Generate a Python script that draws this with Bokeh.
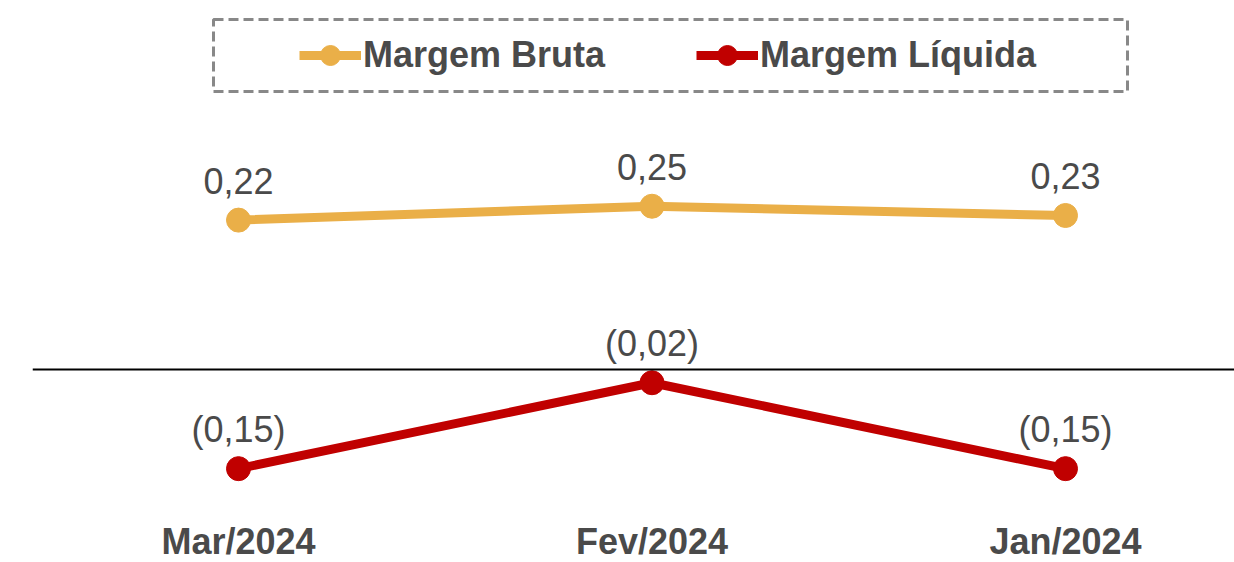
from bokeh.plotting import figure
from bokeh.models import ColumnDataSource, Span, BoxAnnotation, Legend, LegendItem
from bokeh.core.properties import value
from bokeh.embed import file_html
from bokeh.resources import INLINE

# ---- data ----
categories = ["Mar/2024", "Fev/2024", "Jan/2024"]
margem_bruta = [0.226, 0.247, 0.233]
margem_liquida = [-0.150, -0.020, -0.150]
bruta_labels = ["0,22", "0,25", "0,23"]
liquida_labels = ["(0,15)", "(0,02)", "(0,15)"]

# ---- layout constants (pixels on the picture) ----
W, H = 1234, 562
LEFT_BORDER = 32
FRAME_TOP = 0
FRAME_BOTTOM = H
ZERO_PX = 369
PX_PER_UNIT = 661.0
X0_PX, X_STEP = 238.0, 413.5
FRAME_LEFT = LEFT_BORDER
FRAME_RIGHT = W
CAT_LABEL_PX = 540.5

def px_to_x(px):
    return (px - X0_PX) / X_STEP

def py_to_y(py):
    return (ZERO_PX - py) / PX_PER_UNIT

FONT = "Liberation Sans"
TXT = "#4a4a4a"
ORANGE = "#EAAF48"
RED = "#C00000"

xs = list(range(len(categories)))
src = ColumnDataSource(dict(x=xs, bruta=margem_bruta, liquida=margem_liquida,
                            bl=bruta_labels, ll=liquida_labels))
cat_src = ColumnDataSource(dict(x=xs, y=[py_to_y(CAT_LABEL_PX)] * len(xs), t=categories))

p = figure(width=W, height=H, output_backend="svg", toolbar_location=None,
           x_range=(px_to_x(FRAME_LEFT), px_to_x(FRAME_RIGHT)),
           y_range=(py_to_y(FRAME_BOTTOM), py_to_y(FRAME_TOP)),
           x_axis_location=None, y_axis_location=None,
           min_border_left=LEFT_BORDER, min_border_right=0,
           min_border_top=0, min_border_bottom=0)
p.outline_line_color = None
p.xgrid.visible = False
p.ygrid.visible = False

p.add_layout(Span(location=0, dimension="width", line_color="#000000", line_width=2))

lb = p.line("x", "bruta", source=src, line_color=ORANGE, line_width=9)
sb = p.scatter("x", "bruta", source=src, size=24, fill_color=ORANGE, line_color=ORANGE)
ll = p.line("x", "liquida", source=src, line_color=RED, line_width=9)
sl = p.scatter("x", "liquida", source=src, size=24, fill_color=RED, line_color=RED)

for col, ycol in (("bl", "bruta"), ("ll", "liquida")):
    p.text("x", ycol, text=col, source=src, text_align="center", text_baseline="middle",
           y_offset=-39, text_font=value(FONT), text_font_size="36px", text_color=TXT)

# category labels (x axis)
p.text("x", "y", text="t", source=cat_src, text_align="center", text_baseline="middle",
       text_font=value(FONT), text_font_size="36px", text_font_style="bold",
       text_color=TXT)

# dashed legend frame
p.add_layout(BoxAnnotation(left=px_to_x(213), right=px_to_x(1127),
                           top=py_to_y(19), bottom=py_to_y(91),
                           fill_alpha=0, line_color="#888888", line_alpha=1,
                           line_width=3, line_dash="10 5"))

legend = Legend(items=[LegendItem(label="Margem Bruta", renderers=[lb, sb]),
                       LegendItem(label="Margem Líquida", renderers=[ll, sl])],
                orientation="horizontal",
                location=(299 - FRAME_LEFT, FRAME_BOTTOM - 80),
                padding=0, margin=0, spacing=91, label_standoff=2,
                glyph_width=62, glyph_height=50, label_height=50,
                label_text_font=FONT, label_text_font_size="36px",
                label_text_font_style="bold", label_text_color=TXT,
                border_line_alpha=0, background_fill_alpha=0)
p.add_layout(legend, "center")

open("out.html", "w").write(file_html(p, INLINE))
